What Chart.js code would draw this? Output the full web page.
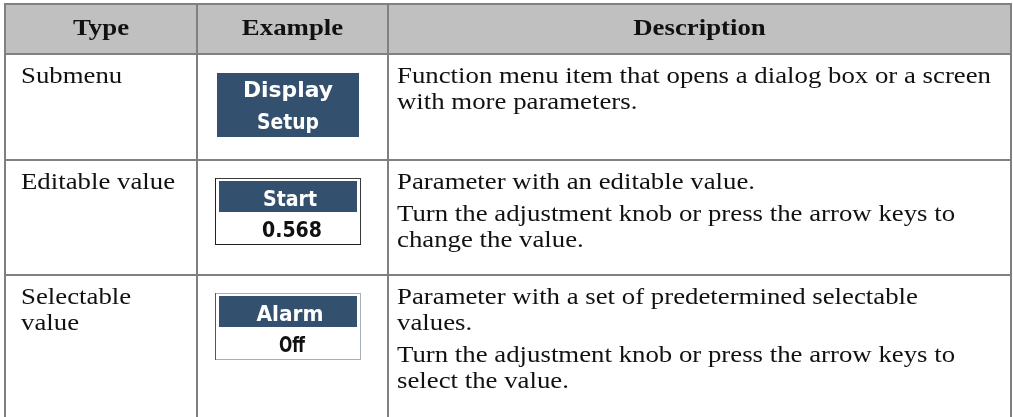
<!DOCTYPE html>
<html>
<head>
<meta charset="utf-8">
<script src="https://cdn.jsdelivr.net/npm/chart.js@4/dist/chart.umd.min.js"></script>
<style>
html,body{margin:0;padding:0;background:#fff;overflow:hidden;}
canvas{display:block;}
</style>
</head>
<body>
<canvas id="c" width="1013" height="417"></canvas>
<script>
// ---- table content ----
const headers = ["Type", "Example", "Description"];
const types = [["Submenu"], ["Editable value"], ["Selectable", "value"]];
const exampleLabels = [["Display", "Setup"], ["Start"], ["Alarm"]];
const exampleValues = [null, "0.568", "Off"];
const descriptions = [
  [["Function menu item that opens a dialog box or a screen", "with more parameters."]],
  [["Parameter with an editable value."],
   ["Turn the adjustment knob or press the arrow keys to", "change the value."]],
  [["Parameter with a set of predetermined selectable", "values."],
   ["Turn the adjustment knob or press the arrow keys to", "select the value."]]
];

// ---- layout (pixels in the scale space) ----
const colEdges = [5, 197, 388, 1011];
const rowEdges = [4, 54, 160, 275];
const tableBottom = 417;

const SERIF = "\"Liberation Serif\", serif";
const SANS = "\"DejaVu Sans\", sans-serif";
const GRID = "#808080";
const HEAD_BG = "#c0c0c0";
const BTN = "rgb(52,80,111)";

const tablePlugin = {
  id: 'tablePlugin',
  beforeDraw(chart) {
    const ctx = chart.ctx;
    ctx.save();
    ctx.fillStyle = '#fff';
    ctx.fillRect(0, 0, chart.width, chart.height);
    ctx.restore();
  },
  afterDraw(chart) {
    const ctx = chart.ctx;
    const xs = chart.scales.x, ys = chart.scales.y;
    const X = v => xs.getPixelForValue(v);
    const Y = v => ys.getPixelForValue(v);

    ctx.font = "23px " + SERIF;
    const sx = 594 / ctx.measureText(descriptions[0][0][0]).width;

    function serifText(t, x, y, bold, align) {
      ctx.save();
      ctx.font = (bold ? "bold " : "") + "23px " + SERIF;
      ctx.fillStyle = "#111";
      ctx.textAlign = align || "left";
      ctx.textBaseline = "alphabetic";
      ctx.translate(x, y);
      ctx.scale(sx, 1);
      ctx.fillText(t, 0, 0);
      ctx.restore();
    }
    function sansText(t, x, y, color, width, size) {
      ctx.save();
      ctx.font = "bold " + (size || 20) + "px " + SANS;
      ctx.fillStyle = color;
      ctx.textAlign = "center";
      ctx.textBaseline = "alphabetic";
      const w = ctx.measureText(t).width;
      const k = width ? width / w : 1;
      ctx.translate(x, y);
      ctx.scale(k, 1);
      ctx.fillText(t, 0, 0);
      ctx.restore();
    }

    ctx.fillStyle = HEAD_BG;
    ctx.fillRect(X(colEdges[0]), Y(rowEdges[0]), X(colEdges[3]) - X(colEdges[0]), Y(rowEdges[1]) - Y(rowEdges[0]));

    ctx.strokeStyle = GRID;
    ctx.lineWidth = 2;
    ctx.beginPath();
    colEdges.forEach(c => { ctx.moveTo(X(c), Y(rowEdges[0]) - 1); ctx.lineTo(X(c), Y(tableBottom)); });
    rowEdges.forEach(r => { ctx.moveTo(X(colEdges[0]) - 1, Y(r)); ctx.lineTo(X(colEdges[3]) + 1, Y(r)); });
    ctx.stroke();

    headers.forEach((h, i) => {
      serifText(h, X((colEdges[i] + colEdges[i + 1]) / 2), Y(35), true, "center");
    });

    const lineH = 26, paraGap = 6, firstOff = 29;
    types.forEach((lines, r) => {
      lines.forEach((t, k) => serifText(t, X(21), Y(rowEdges[r + 1] + firstOff + k * lineH)));
    });
    descriptions.forEach((paras, r) => {
      let y = rowEdges[r + 1] + firstOff;
      paras.forEach(p => {
        p.forEach(t => { serifText(t, X(397), y); y += lineH; });
        y += paraGap;
      });
    });

    const bx0 = 217, bx1 = 359, cx = 288;
    ctx.fillStyle = BTN;
    ctx.fillRect(X(bx0), Y(73), X(bx1) - X(bx0), Y(137) - Y(73));
    sansText(exampleLabels[0][0], X(cx), Y(97), "#fff", 90, 21);
    sansText(exampleLabels[0][1], X(cx), Y(129), "#fff", 62, 21);

    const tops = [null, 178, 293];
    const widths = [null, [54, 60], [67, 26]];
    for (let r = 1; r <= 2; r++) {
      const t = tops[r];
      const x0 = X(215), x1 = X(361), y0 = Y(t), y1 = Y(t + 67);
      ctx.fillStyle = "#fff";
      ctx.fillRect(x0, y0, x1 - x0, y1 - y0);
      ctx.lineWidth = 1;
      ctx.strokeStyle = r === 1 ? "#3a3a3a" : "#a7b0ba";
      ctx.strokeRect(x0 + 0.5, y0 + 0.5, x1 - x0 - 1, y1 - y0 - 1);
      ctx.strokeStyle = r === 1 ? "#222" : "#555";
      ctx.beginPath();
      ctx.moveTo(x0 + 0.5, y0); ctx.lineTo(x0 + 0.5, y1);
      if (r === 1) { ctx.moveTo(x0, y1 - 0.5); ctx.lineTo(x1, y1 - 0.5); }
      ctx.stroke();
      ctx.fillStyle = BTN;
      ctx.fillRect(X(219), Y(t + 3), X(357) - X(219), Y(t + 34) - Y(t + 3));
      sansText(exampleLabels[r][0], X(cx + 2), Y(t + 28), "#fff", widths[r][0], 21);
      sansText(exampleValues[r], X(cx + 4), Y(t + 59), "#111", widths[r][1], 21);
    }
  }
};

function build() {
  new Chart(document.getElementById('c'), {
    type: 'scatter',
    data: { datasets: [] },
    options: {
      responsive: false,
      animation: false,
      devicePixelRatio: 1,
      events: [],
      layout: { padding: 0 },
      scales: {
        x: { type: 'linear', min: 0, max: 1013, display: false },
        y: { type: 'linear', min: 0, max: 417, reverse: true, display: false }
      },
      plugins: { legend: { display: false }, tooltip: { enabled: false } }
    },
    plugins: [tablePlugin]
  });
}
Promise.all([
  document.fonts.load("23px \"Liberation Serif\""),
  document.fonts.load("bold 23px \"Liberation Serif\""),
  document.fonts.load("bold 21px \"DejaVu Sans\"")
]).then(build, build);
</script>
</body>
</html>
